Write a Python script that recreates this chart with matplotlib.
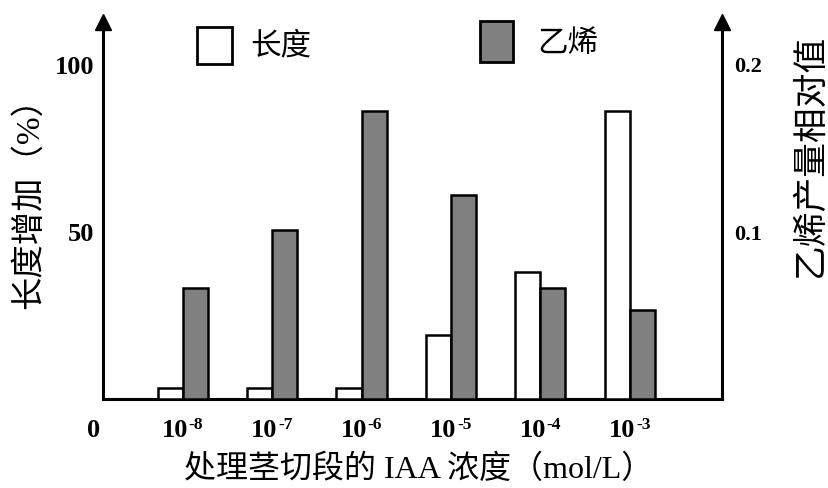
import matplotlib
matplotlib.use('Agg')
import matplotlib.pyplot as plt
from matplotlib.patches import Rectangle
import matplotlib.transforms as mtransforms

# ---------------- data ----------------
exponents = ['0', '-8', '-7', '-6', '-5', '-4', '-3']          # IAA concentration 10^x (first is 0)
length_increase = [0, 3.3, 3.3, 3.3, 19.1, 37.9, 86.0]         # % (left axis)
ethylene = [0, 0.066, 0.101, 0.172, 0.122, 0.066, 0.053]       # relative value (right axis)
left_ticks = [50, 100]
left_tick_labels = ['50', '100']
right_ticks = [0.1, 0.2]
right_tick_labels = ['0.1', '0.2']
legend_labels = ['长度', '乙烯']
xlabel = '处理茎切段的 IAA 浓度（mol/L）'
ylabel_left = '长度增加（%）'
ylabel_right = '乙烯产量相对值'

plt.rcParams['font.family'] = ['Liberation Serif', 'Noto Sans CJK SC']

W, H = 829, 489
fig = plt.figure(figsize=(W / 100, H / 100), dpi=100)

def fx(px):
    return px / W

def fy(py):
    return 1 - py / H

ax_left, ax_right, ax_bottom, ax_top = 103, 722, 400, 23
ax = fig.add_axes([fx(ax_left), fy(ax_bottom), (ax_right - ax_left) / W, (ax_bottom - ax_top) / H])
ax2 = ax.twinx()

ymax = 112.5
ax.set_ylim(0, ymax)
ax2.set_ylim(0, ymax * 0.002)
ax.set_xlim(0.11, 7.03)

x = list(range(len(exponents)))
bw = 0.28
gray = '#808080'
ax.bar([i - bw / 2 for i in x], length_increase, width=bw, color='white',
       edgecolor='black', linewidth=1.8, zorder=3)
ax2.bar([i + bw / 2 for i in x], ethylene, width=bw, color=gray,
        edgecolor='black', linewidth=1.8, zorder=3)

# spines
for s in ['top', 'right']:
    ax.spines[s].set_visible(False)
for s in ['top', 'left', 'bottom']:
    ax2.spines[s].set_visible(False)
ax.spines['left'].set_linewidth(2.2)
ax.spines['bottom'].set_linewidth(2.2)
ax2.spines['right'].set_linewidth(2.2)

# arrows on vertical axes
ax.plot([0], [1], marker='^', color='black', ms=11, transform=ax.transAxes, clip_on=False, zorder=5)
ax2.plot([1], [1], marker='^', color='black', ms=11, transform=ax2.transAxes, clip_on=False, zorder=5)

# y ticks
ax.set_yticks(left_ticks)
ax.set_yticklabels(left_tick_labels, fontsize=19, fontweight='bold')
ax.tick_params(axis='y', length=0, pad=6)
ax2.set_yticks(right_ticks)
ax2.set_yticklabels(right_tick_labels, fontsize=16, fontweight='bold')
ax2.tick_params(axis='y', length=0, pad=9)

# x tick labels (manual, includes "0" outside the axes)
ax.set_xticks([])
trans = mtransforms.blended_transform_factory(ax.transData, ax.transAxes)
base_px = 37  # baseline below x axis, pixels
for i, e in zip(x, exponents):
    if e == '0':
        ax.annotate('0', xy=(i, 0), xycoords=trans, xytext=(0, -base_px * 0.72),
                    textcoords='offset points', ha='center', va='baseline',
                    fontsize=19, fontweight='bold', annotation_clip=False)
    else:
        ax.annotate('10', xy=(i, 0), xycoords=trans, xytext=(4, -base_px * 0.72),
                    textcoords='offset points', ha='right', va='baseline',
                    fontsize=19, fontweight='bold', annotation_clip=False)
        ax.annotate(e, xy=(i, 0), xycoords=trans, xytext=(4.5, -base_px * 0.72 + 6),
                    textcoords='offset points', ha='left', va='baseline',
                    fontsize=12.5, fontweight='bold', annotation_clip=False)

# axis labels
fig.text(fx(419), fy(470), xlabel, ha='center', va='center', fontsize=23)
fig.text(fx(29), fy(195), ylabel_left, ha='center', va='center', fontsize=24, rotation=90)
fig.text(fx(811), fy(155), ylabel_right, ha='center', va='center', fontsize=25, rotation=90)

# legend (manual)
fig.patches.append(Rectangle((fx(197), fy(65)), 35 / W, 37 / H, transform=fig.transFigure,
                             facecolor='white', edgecolor='black', linewidth=2))
fig.patches.append(Rectangle((fx(480), fy(63)), 33 / W, 41 / H, transform=fig.transFigure,
                             facecolor=gray, edgecolor='black', linewidth=2))
fig.text(fx(250), fy(47), legend_labels[0], ha='left', va='center', fontsize=22)
fig.text(fx(537), fy(45), legend_labels[1], ha='left', va='center', fontsize=22)

fig.savefig('out.png', dpi=100)
